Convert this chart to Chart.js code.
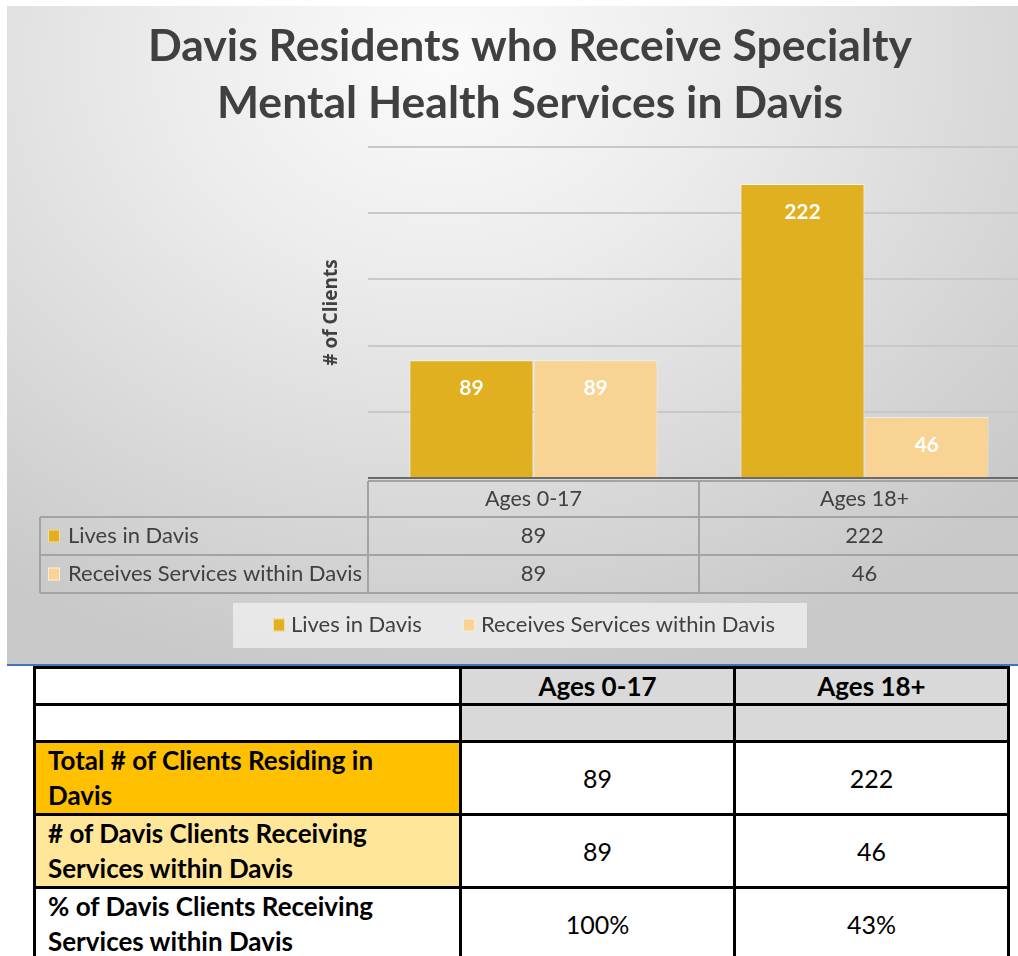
<!DOCTYPE html>
<html>
<head>
<meta charset="utf-8">
<script src="https://cdn.jsdelivr.net/npm/chart.js@4.4.1/dist/chart.umd.min.js"></script>
<style>
html,body{margin:0;padding:0;background:#fff;width:1018px;height:956px;overflow:hidden;position:relative;}
#wrap{position:absolute;left:7px;top:6px;width:1040px;height:658px;border-bottom:2px solid #4472c4;
  background:radial-gradient(ellipse 75% 95% at 42% 8%, #fbfbfb 0%, #ececec 35%, #dcdcdc 65%, #c9c9c9 100%);}
#wrap canvas{display:block;}
#tbl{position:absolute;left:33px;top:666px;border-collapse:collapse;font-family:Lato,"DejaVu Sans",sans-serif;font-size:25px;color:#000;}
#tbl td{border:3px solid #000;padding:0 12px;}
#tbl td.lab{font-weight:bold;text-align:left;line-height:35px;font-size:26px;}
#tbl td.lab div{max-width:350px;}
#tbl td.val{text-align:center;}
#tbl td.grey{background:#d9d9d9;}
#tbl td.hd{font-weight:bold;text-align:center;font-size:26px;}
</style>
</head>
<body>
<div id="wrap"><canvas id="c"></canvas></div>
<table id="tbl"></table>
<script>
// ---- data ----
const categories = ['Ages 0-17', 'Ages 18+'];
const seriesNames = ['Lives in Davis', 'Receives Services within Davis'];
const livesInDavis = [89, 222];
const receivesInDavis = [89, 46];
const pctLabels = ['100%', '43%'];
const tableRowLabels = ['Total # of Clients Residing in Davis', '# of Davis Clients Receiving Services within Davis', '% of Davis Clients Receiving Services within Davis'];
const yTicks = [0, 50, 100, 150, 200, 250];

const colLives = '#E0B020';
const colRecv = '#F9D393';
const textCol = '#404040';
const FONT = 'Lato, "DejaVu Sans", sans-serif';

// ---- plugin: bar labels, data table, legend ----
const extras = {
  id: 'extras',
  afterDatasetsDraw(chart) {
    const ctx = chart.ctx;
    ctx.save();
    ctx.fillStyle = '#ffffff';
    ctx.font = 'bold 21px ' + FONT;
    ctx.textAlign = 'center';
    ctx.textBaseline = 'middle';
    chart.data.datasets.forEach((ds, di) => {
      const meta = chart.getDatasetMeta(di);
      meta.data.forEach((el, i) => {
        ctx.fillText(String(ds.data[i]), el.x, el.y + 28);
      });
    });
    ctx.restore();
  },
  afterDraw(chart) {
    const ctx = chart.ctx;
    const ca = chart.chartArea;
    const x = chart.scales.x;
    const n = categories.length;
    const cw = (ca.right - ca.left) / n;
    const bounds = [];
    for (let i = 0; i < n; i++) bounds.push(x.getPixelForValue(i) - cw / 2);
    bounds.push(x.getPixelForValue(n - 1) + cw / 2);
    const tTop = ca.bottom + 3, hBot = ca.bottom + 39, r1 = ca.bottom + 77, r2 = ca.bottom + 115;
    const leftEdge = 33;
    ctx.save();
    ctx.strokeStyle = '#a3a3a3';
    ctx.lineWidth = 2;
    ctx.beginPath();
    ctx.moveTo(bounds[0], tTop); ctx.lineTo(bounds[n], tTop);
    [hBot, r1, r2].forEach(yy => { ctx.moveTo(leftEdge, yy); ctx.lineTo(bounds[n], yy); });
    bounds.forEach(bx => { ctx.moveTo(bx, tTop); ctx.lineTo(bx, r2); });
    ctx.moveTo(leftEdge, hBot); ctx.lineTo(leftEdge, r2);
    ctx.stroke();
    // row content
    ctx.font = '22px ' + FONT;
    ctx.fillStyle = textCol;
    ctx.textBaseline = 'middle';
    const rowsY = [(hBot + r1) / 2, (r1 + r2) / 2];
    chart.data.datasets.forEach((ds, di) => {
      const yy = rowsY[di];
      ctx.fillStyle = ds.backgroundColor;
      ctx.fillRect(41, yy - 6.5, 12, 13);
      ctx.strokeStyle = 'rgba(255,255,255,0.6)';
      ctx.lineWidth = 1;
      ctx.strokeRect(41.5, yy - 6, 11, 12);
      ctx.fillStyle = textCol;
      ctx.textAlign = 'left';
      ctx.fillText(ds.label, 61, yy);
      ctx.textAlign = 'center';
      ds.data.forEach((v, i) => ctx.fillText(String(v), x.getPixelForValue(i), yy));
    });
    // legend
    ctx.font = '22px ' + FONT;
    const sw = 12, gap = 6, spacing = 41;
    const items = chart.data.datasets.map(ds => ({ label: ds.label, color: ds.backgroundColor, w: ctx.measureText(ds.label).width }));
    let total = 0;
    items.forEach((it, i) => { total += sw + gap + it.w + (i ? spacing : 0); });
    const cx = 517, ly = 619;
    let lx = cx - total / 2;
    ctx.fillStyle = 'rgba(240,240,240,0.75)';
    ctx.fillRect(lx - 40, 597, total + 72, 45);
    items.forEach((it, i) => {
      if (i) lx += spacing;
      ctx.fillStyle = it.color;
      ctx.fillRect(lx, ly - 6.5, sw, 13);
      ctx.strokeStyle = 'rgba(255,255,255,0.6)';
      ctx.lineWidth = 1;
      ctx.strokeRect(lx + 0.5, ly - 6, sw - 1, 12);
      lx += sw + gap;
      ctx.fillStyle = textCol;
      ctx.textAlign = 'left';
      ctx.fillText(it.label, lx, ly);
      lx += it.w;
    });
    ctx.restore();
  }
};

new Chart(document.getElementById('c'), {
  type: 'bar',
  data: {
    labels: categories,
    datasets: [
      { label: seriesNames[0], data: livesInDavis, backgroundColor: colLives, borderColor: 'rgba(255,255,255,0.55)', borderWidth: 1 },
      { label: seriesNames[1], data: receivesInDavis, backgroundColor: colRecv, borderColor: 'rgba(255,255,255,0.55)', borderWidth: 1 }
    ]
  },
  options: {
    responsive: true,
    maintainAspectRatio: false,
    animation: false,
    categoryPercentage: 0.75,
    barPercentage: 1.0,
    layout: { padding: { left: 23, right: 17, top: 0, bottom: 0 } },
    plugins: {
      legend: { display: false },
      tooltip: { enabled: false },
      title: {
        display: true,
        text: ['Davis Residents who Receive Specialty', 'Mental Health Services in Davis'],
        color: textCol,
        font: { family: FONT, size: 44.5, weight: 'bold', lineHeight: 57 / 44.5 },
        padding: { top: 12.5, bottom: 14.5 }
      }
    },
    scales: {
      x: {
        grid: { display: false, drawTicks: false },
        border: { display: false },
        ticks: { color: textCol, font: { family: FONT, size: 21.5 }, padding: 8 },
        afterFit(s) { s.height = 186; }
      },
      y: {
        min: 0, max: 250,
        afterBuildTicks(s) { s.ticks = yTicks.map(v => ({ value: v })); },
        ticks: { display: false },
        grid: {
          drawTicks: false,
          lineWidth: 2,
          color: c => (c.tick && c.tick.value === 0) ? '#6b6b6b' : '#c8c8c8'
        },
        border: { display: false },
        title: {
          display: true,
          text: '# of Clients',
          color: textCol,
          font: { family: '"Open Sans", sans-serif', size: 19, weight: 'bold', lineHeight: 1.2 },
          padding: { top: 290.5, bottom: 0 }
        },
        afterFit(s) { s.width = 338; }
      }
    }
  },
  plugins: [extras]
});

// ---- HTML summary table built from the arrays ----
(function () {
  const t = document.getElementById('tbl');
  const colW = [426, 274, 274];
  let html = '<colgroup>' + colW.map(w => '<col style="width:' + w + 'px">').join('') + '</colgroup>';
  html += '<tr style="height:37px"><td></td>' + categories.map(c => '<td class="hd grey">' + c + '</td>').join('') + '</tr>';
  html += '<tr style="height:37px"><td></td>' + categories.map(() => '<td class="grey"></td>').join('') + '</tr>';
  const rows = [
    { label: tableRowLabels[0], bg: '#FFC000', vals: livesInDavis },
    { label: tableRowLabels[1], bg: '#FFE699', vals: receivesInDavis },
    { label: tableRowLabels[2], bg: '#FFFFFF', vals: pctLabels }
  ];
  rows.forEach(r => {
    html += '<tr style="height:73px"><td class="lab" style="background:' + r.bg + '"><div>' + r.label + '</div></td>' +
      r.vals.map(v => '<td class="val">' + v + '</td>').join('') + '</tr>';
  });
  t.innerHTML = html;
})();
</script>
</body>
</html>
